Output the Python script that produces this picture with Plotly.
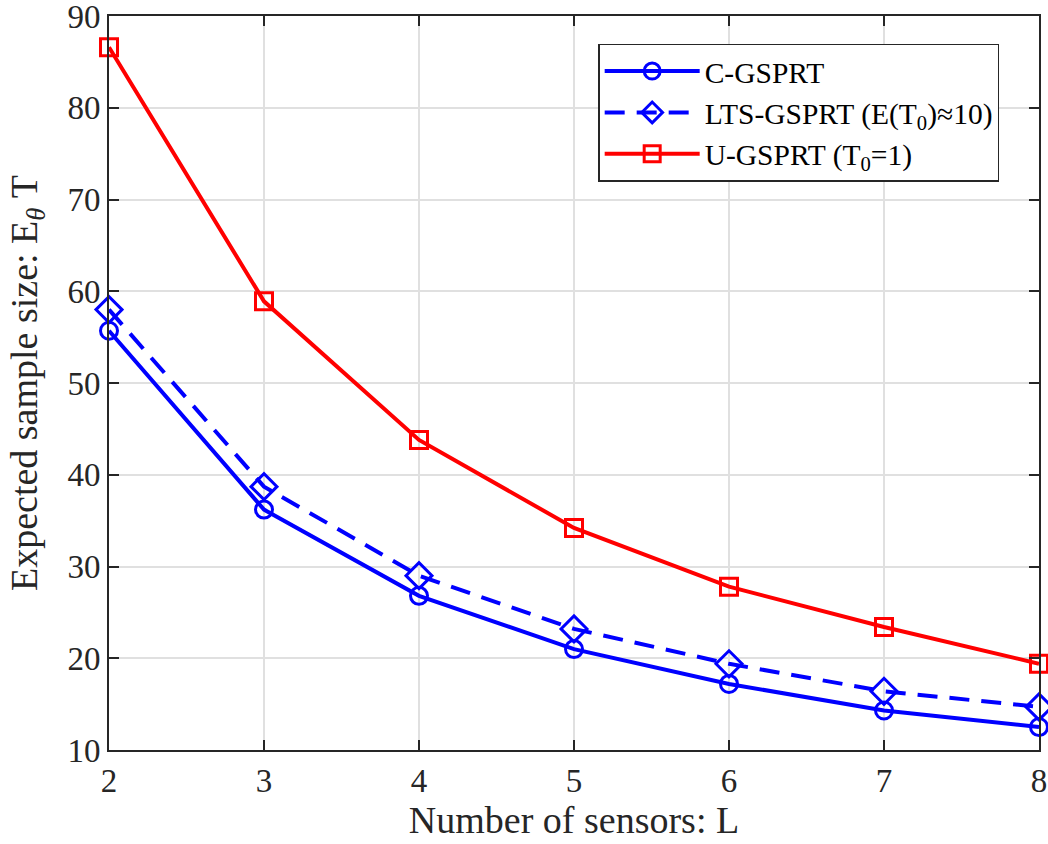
import plotly.graph_objects as go

# Number of sensors
L = [2, 3, 4, 5, 6, 7, 8]

# Expected sample size for each test
c_gsprt = [55.7, 36.2, 26.8, 21.0, 17.2, 14.3, 12.5]
lts_gsprt = [58.0, 38.7, 29.0, 23.2, 19.4, 16.4, 14.7]
u_gsprt = [86.6, 58.9, 43.8, 34.2, 27.8, 23.4, 19.4]

FONT = "Liberation Serif, Times New Roman, serif"
BLUE = "rgb(0,0,255)"
RED = "rgb(255,0,0)"
AXIS = "#262626"

fig = go.Figure()
fig.add_trace(go.Scatter(
    x=L, y=c_gsprt, mode="lines+markers", name="C-GSPRT",
    line=dict(color=BLUE, width=4),
    marker=dict(symbol="circle-open", size=17, line=dict(color=BLUE, width=3)),
    cliponaxis=False,
))
fig.add_trace(go.Scatter(
    x=L, y=lts_gsprt, mode="lines+markers",
    name="LTS-GSPRT (E(T<sub>0</sub>)≈10)",
    line=dict(color=BLUE, width=4, dash="20px,12px"),
    marker=dict(symbol="diamond-open", size=20, line=dict(color=BLUE, width=3)),
    cliponaxis=False,
))
fig.add_trace(go.Scatter(
    x=L, y=u_gsprt, mode="lines+markers",
    name="U-GSPRT (T<sub>0</sub>=1)",
    line=dict(color=RED, width=4),
    marker=dict(symbol="square-open", size=17, line=dict(color=RED, width=3)),
    cliponaxis=False,
))

axis_common = dict(
    showline=True, linecolor=AXIS, linewidth=2, mirror="ticks",
    ticks="inside", ticklen=10, tickwidth=2, tickcolor=AXIS,
    showgrid=True, gridcolor="#e0e0e0", gridwidth=1.5,
    zeroline=False, automargin=False, ticklabeloverflow="allow",
    tickfont=dict(family=FONT, size=33, color=AXIS),
)

fig.update_xaxes(
    range=[2, 8], tickvals=L, ticktext=[str(v) for v in L],
    title=dict(text="Number of sensors: L", font=dict(family=FONT, size=38, color=AXIS),
               standoff=2),
    **axis_common,
)
fig.update_yaxes(
    range=[10, 90], tickvals=[10, 20, 30, 40, 50, 60, 70, 80, 90],
    title=dict(text="Expected sample size: E<sub><i>θ</i></sub> T",
               font=dict(family=FONT, size=38, color=AXIS), standoff=18),
    **axis_common,
)

fig.update_layout(
    width=1048, height=844,
    margin=dict(l=109, r=9, t=16, b=94),
    plot_bgcolor="white", paper_bgcolor="white",
    font=dict(family=FONT, color=AXIS),
    legend=dict(
        x=0.526, y=0.962, xanchor="left", yanchor="top",
        bgcolor="white", bordercolor=AXIS, borderwidth=1.5,
        font=dict(family=FONT, size=29.5, color="black"),
        itemwidth=95, tracegroupgap=0,
    ),
    showlegend=True,
)

fig.write_html("out.html")
